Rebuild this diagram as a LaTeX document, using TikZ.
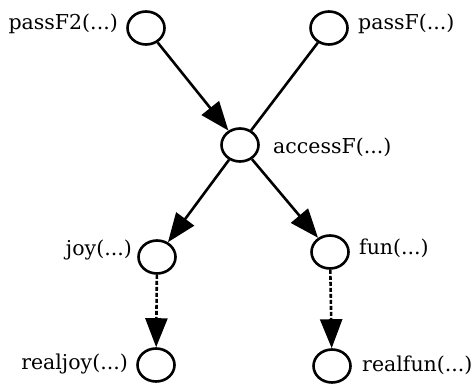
\documentclass[tikz,border=0pt]{standalone}
\usepackage{fontspec}
\setmainfont{DejaVu Serif}
\usetikzlibrary{shapes.geometric,arrows.meta}
\begin{document}
\begin{tikzpicture}[x=1pt,y=1pt,
  fn/.style={ellipse,draw,line width=2.6pt,minimum width=37pt,minimum height=33pt,inner sep=0pt},
  lbl/.style={font=\fontsize{20.5}{24}\selectfont,inner sep=0pt},
  edge/.style={line width=2.6pt,-{Triangle[length=29pt,width=22pt]}},
  plain/.style={line width=2.6pt},
  dedge/.style={line width=2.6pt,dash pattern=on 4pt off 2pt,-{Triangle[length=29pt,width=22pt]}}]
\useasboundingbox (0,0) rectangle (473,386);
\node[fn] (passF2) at (146,358) {};
\node[fn] (passF) at (329,358) {};
\node[fn] (accessF) at (240,241) {};
\node[fn] (joy) at (157,129) {};
\node[fn] (fun) at (330,134) {};
\node[fn] (realjoy) at (156,21) {};
\node[fn] (realfun) at (332,20) {};
\node[lbl,anchor=east] (l1) at (118,362) {passF2(...)};
\node[lbl,anchor=west] (l2) at (358,362) {passF(...)};
\node[lbl,anchor=west] (l3) at (273,239) {accessF(...)};
\node[lbl,anchor=east] (l4) at (132,136) {joy(...)};
\node[lbl,anchor=west] (l5) at (359,138) {fun(...)};
\node[lbl,anchor=east] (l6) at (128,22) {realjoy(...)};
\node[lbl,anchor=west] (l7) at (362,21) {realfun(...)};
\draw[edge] (passF2) -- (accessF);
\draw[plain] (passF) -- (accessF);
\draw[edge] (accessF) -- (joy);
\draw[edge] (accessF) -- (fun);
\draw[dedge] (joy) -- (realjoy);
\draw[dedge] (fun) -- (realfun);
\end{tikzpicture}
\end{document}
